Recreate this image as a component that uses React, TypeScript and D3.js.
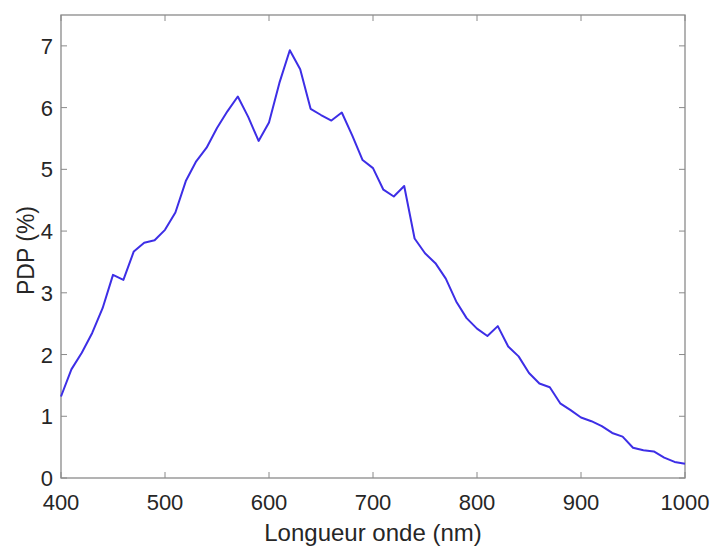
import React from "react";
import * as d3 from "d3";

const wavelengths: number[] = d3.range(400, 1001, 10);
const pdp: number[] = [
  1.32, 1.76, 2.03, 2.35, 2.75, 3.29, 3.21, 3.67, 3.81, 3.85,
  4.02, 4.3, 4.81, 5.13, 5.35, 5.67, 5.94, 6.18, 5.85, 5.46,
  5.76, 6.4, 6.93, 6.62, 5.98, 5.88, 5.79, 5.92, 5.55, 5.15,
  5.02, 4.67, 4.56, 4.73, 3.88, 3.64, 3.48, 3.23, 2.86, 2.59,
  2.42, 2.3, 2.46, 2.13, 1.97, 1.7, 1.53, 1.47, 1.21, 1.1,
  0.98, 0.92, 0.84, 0.73, 0.67, 0.49, 0.45, 0.43, 0.33, 0.26, 0.23,
];
const xTicks: number[] = [400, 500, 600, 700, 800, 900, 1000];
const yTicks: number[] = [0, 1, 2, 3, 4, 5, 6, 7];
const xLabel = "Longueur onde (nm)";
const yLabel = "PDP (%)";

const W = 713;
const H = 548;
const L = 61, R = 685, T = 15, B = 478;

export default function App() {
  const x = d3.scaleLinear().domain([400, 1000]).range([L, R]);
  const y = d3.scaleLinear().domain([0, 7.5]).range([B, T]);
  const data = wavelengths.map((w, i) => [w, pdp[i]] as [number, number]);
  const line = d3.line<[number, number]>().x(d => x(d[0])).y(d => y(d[1]));
  const axisColor = "#8a8a8a";
  const textColor = "#262626";
  const font = "'Liberation Sans', Arial, sans-serif";
  const tl = 6;
  return (
    <svg width={W} height={H} style={{ position: "absolute", left: 0, top: 0, background: "#fff" }}>
      <rect x={0} y={0} width={W} height={H} fill="#fff" />
      <rect x={L} y={T} width={R - L} height={B - T} fill="#fff" stroke={axisColor} strokeWidth={1.3} />
      {xTicks.map(t => (
        <g key={"x" + t}>
          <line x1={x(t)} x2={x(t)} y1={B} y2={B - tl} stroke={axisColor} strokeWidth={1} />
          <line x1={x(t)} x2={x(t)} y1={T} y2={T + tl} stroke={axisColor} strokeWidth={1} />
          <text x={x(t)} y={510} textAnchor="middle" fontFamily={font} fontSize={22} fill={textColor}>{t}</text>
        </g>
      ))}
      {yTicks.map(t => (
        <g key={"y" + t}>
          <line x1={L} x2={L + tl} y1={y(t)} y2={y(t)} stroke={axisColor} strokeWidth={1} />
          <line x1={R} x2={R - tl} y1={y(t)} y2={y(t)} stroke={axisColor} strokeWidth={1} />
          <text x={53} y={y(t) + 8} textAnchor="end" fontFamily={font} fontSize={22} fill={textColor}>{t}</text>
        </g>
      ))}
      <path d={line(data) || ""} fill="none" stroke="#3d2ee6" strokeWidth={2} strokeLinejoin="round" />
      <text x={(L + R) / 2} y={541} textAnchor="middle" fontFamily={font} fontSize={24} fill={textColor}>{xLabel}</text>
      <text transform={`translate(34, ${(T + B) / 2 + 4}) rotate(-90)`} textAnchor="middle" fontFamily={font} fontSize={23} fill={textColor}>{yLabel}</text>
    </svg>
  );
}
